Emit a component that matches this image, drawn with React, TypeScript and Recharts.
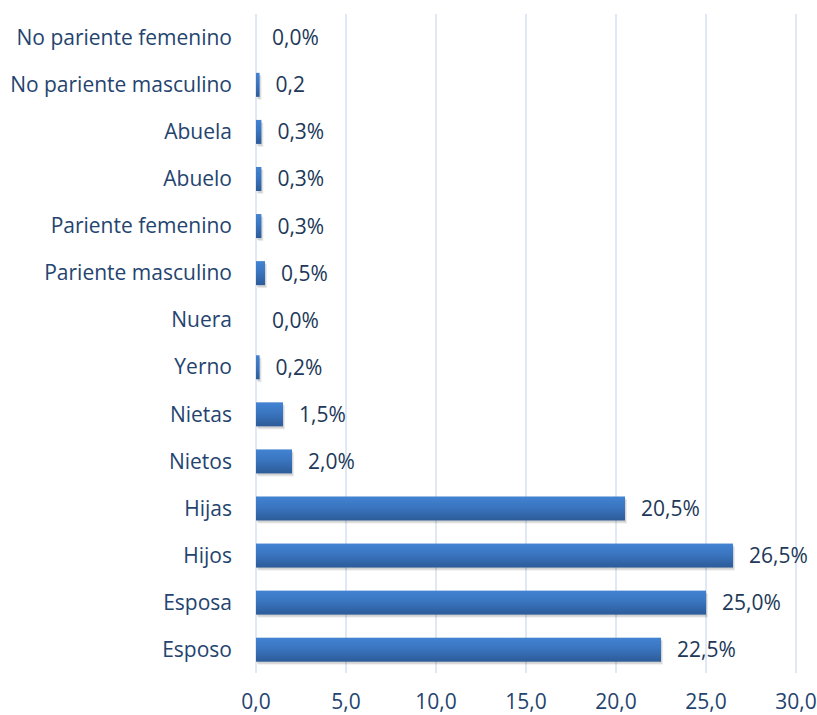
import React from 'react';
import { BarChart, Bar, XAxis, YAxis, CartesianGrid, LabelList } from 'recharts';

const categories = [
  'No pariente femenino',
  'No pariente masculino',
  'Abuela',
  'Abuelo',
  'Pariente femenino',
  'Pariente masculino',
  'Nuera',
  'Yerno',
  'Nietas',
  'Nietos',
  'Hijas',
  'Hijos',
  'Esposa',
  'Esposo',
];

const values = [0.0, 0.2, 0.3, 0.3, 0.3, 0.5, 0.0, 0.2, 1.5, 2.0, 20.5, 26.5, 25.0, 22.5];

const valueLabels = ['0,0%', '0,2', '0,3%', '0,3%', '0,3%', '0,5%', '0,0%', '0,2%', '1,5%', '2,0%', '20,5%', '26,5%', '25,0%', '22,5%'];

const xTicks = [0, 5, 10, 15, 20, 25, 30];

const data = categories.map((name, i) => ({ name, value: values[i], label: valueLabels[i] }));

const FONT = '"Open Sans", Lato, sans-serif';

// bar with its own gradient and soft shadow, like the office-style 3D shading
const ShadedBar = (p: any) => {
  const { x, y, width, height, index } = p;
  if (!width || width <= 0) return <g />;
  const gid = `bf-${index}`;
  return (
    <g>
      <defs>
        <linearGradient id={gid} x1="0" y1="0" x2="0" y2="1">
          <stop offset="0%" stopColor="#4283d2" />
          <stop offset="45%" stopColor="#3a75c0" />
          <stop offset="100%" stopColor="#2c5b98" />
        </linearGradient>
      </defs>
      <rect x={x + 2} y={y + 3} width={width} height={height} fill="#000" opacity={0.08} />
      <rect x={x + 1} y={y + 2} width={width} height={height} fill="#000" opacity={0.1} />
      <rect x={x} y={y} width={width} height={height} fill={`url(#${gid})`} />
    </g>
  );
};

export default function App() {
  return (
    <div style={{ width: 817, height: 715, background: '#fff' }}>
      <style>{`body{margin:0}`}</style>
      <BarChart
        width={817}
        height={715}
        data={data}
        layout="vertical"
        margin={{ top: 14, right: 21, left: 0, bottom: 0 }}
        barCategoryGap="25%"
      >
        <CartesianGrid horizontal={false} stroke="#d5e1f1" strokeWidth={1.5} />
        <XAxis
          type="number"
          domain={[0, 30]}
          ticks={xTicks}
          tickFormatter={(v: number) => v.toFixed(1).replace('.', ',')}
          axisLine={false}
          tickLine={false}
          tickSize={0}
          tickMargin={21}
          height={42}
          tick={{ fill: '#24446f', fontSize: 21, fontFamily: FONT }}
        />
        <YAxis
          type="category"
          dataKey="name"
          width={256}
          axisLine={false}
          tickLine={false}
          tickSize={0}
          tickMargin={24}
          interval={0}
          tick={{ fill: '#24446f', fontSize: 21, fontFamily: FONT }}
        />
        <Bar dataKey="value" fill="#3a75c0" isAnimationActive={false} shape={ShadedBar}>
          <LabelList
            dataKey="label"
            position="right"
            offset={16}
            style={{ fill: '#213858', fontSize: 21, fontFamily: FONT }}
          />
        </Bar>
      </BarChart>
    </div>
  );
}
